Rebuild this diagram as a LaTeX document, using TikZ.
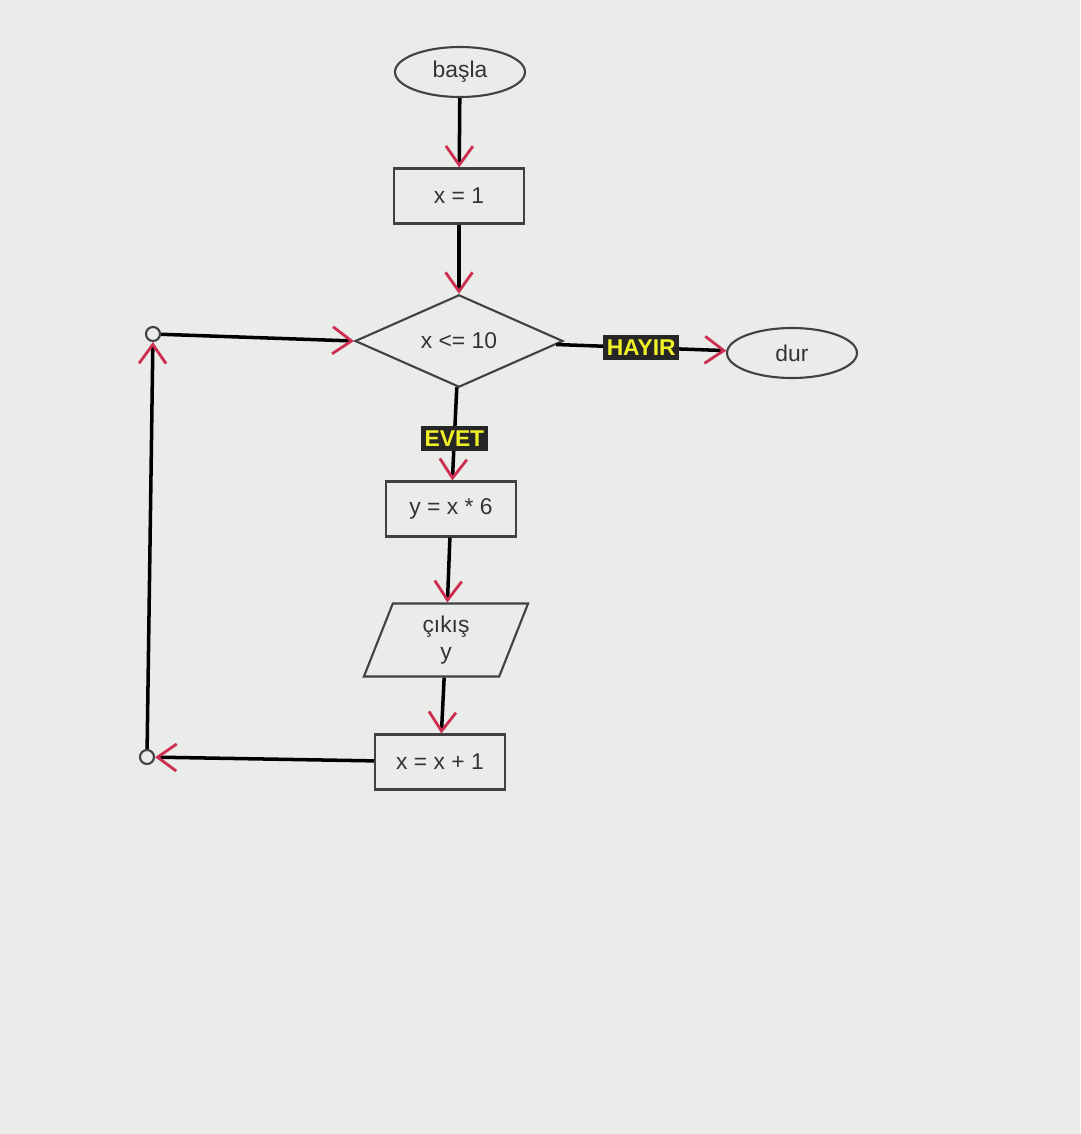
\documentclass[tikz,border=0pt]{standalone}
\usepackage{fontspec}
\setmainfont{Liberation Sans}
\usepackage{xcolor}
\usepackage{tikz}
\usetikzlibrary{shapes.geometric}
\usetikzlibrary{arrows.meta}
\usetikzlibrary{positioning}
\definecolor{tipred}{RGB}{205,45,80}
\definecolor{screen}{RGB}{234,236,234}
\definecolor{shapeline}{RGB}{65,65,65}
\definecolor{flagyellow}{RGB}{240,240,40}
\tikzset{flow/.style={draw=shapeline, line width=1.2pt, text=black!80, font=\fontsize{13}{15}\selectfont, inner sep=2pt, align=center}}
\tikzset{term/.style={flow, ellipse, minimum width=2.6cm, minimum height=1cm}}
\tikzset{proc/.style={flow, rectangle, minimum width=2.6cm, minimum height=1.1cm}}
\tikzset{decide/.style={flow, diamond, minimum width=4.16cm, minimum height=1.82cm, inner sep=0pt}}
\tikzset{io/.style={flow, trapezium, trapezium left angle=75, trapezium right angle=105, trapezium stretches=true, minimum width=3.3cm, minimum height=1.46cm}}
\tikzset{joint/.style={draw=shapeline, circle, line width=1.2pt, fill=screen, minimum size=0.28cm, inner sep=0pt}}
\tikzset{flag/.style={fill=black!85, text=flagyellow, font=\fontsize{13}{15}\selectfont\bfseries, inner xsep=2pt, inner ysep=2.5pt}}
\tikzset{link/.style={line width=2pt, -{Straight Barb[color=tipred, length=3.8mm, width=5.4mm, line width=1.6pt]}}}
\begin{document}
\begin{tikzpicture}[x=0.02cm, y=-0.02cm]
\fill[screen] (0,0) rectangle (1080,1134);
\useasboundingbox (0,0) rectangle (1080,1134);
\node[term] (start) at (460,72) {başla};
\node[proc] (init) at (459,196) {x = 1};
\node[decide] (cond) at (459,341) {x <= 10};
\node[term] (stop) at (792,353) {dur};
\node[proc] (calc) at (451,509) {y = x * 6};
\node[io] (out) at (446,640) {çıkış\\y};
\node[proc] (incr) at (440,762) {x = x + 1};
\node[joint] (lt) at (153,334) {};
\node[joint] (lb) at (147,757) {};
\draw[link] (start) -- (init);
\draw[link] (init) -- (cond);
\draw[link] (cond) -- node[flag] (no) {HAYIR} (stop);
\draw[link] (cond) -- node[flag, pos=0.55] (yes) {EVET} (calc);
\draw[link] (calc) -- (out);
\draw[link] (out) -- (incr);
\draw[link] (incr) -- (lb);
\draw[link] (lb) -- (lt);
\draw[link] (lt) -- (cond.west);
\end{tikzpicture}
\end{document}
